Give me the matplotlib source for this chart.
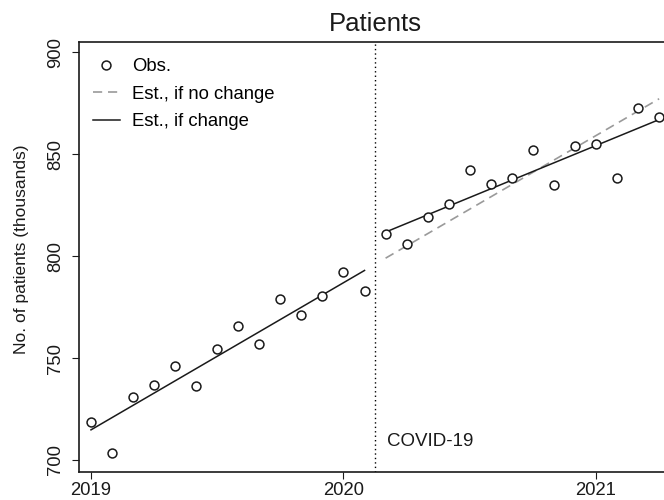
# Interrupted time series: monthly patients before / after COVID-19
import numpy as np
import matplotlib
matplotlib.use('Agg')
import matplotlib.pyplot as plt

plt.rcParams['font.family'] = ['Liberation Sans', 'DejaVu Sans']

# months since Jan 2019
months_pre = np.arange(0, 14)      # 2019-01 .. 2020-02
months_post = np.arange(14, 28)    # 2020-03 .. 2021-04

obs_pre = [718.5, 703.4, 731.0, 736.9, 745.9, 736.1, 754.4,
           765.5, 756.7, 779.1, 771.1, 780.5, 792.2, 782.8]
obs_post = [810.8, 805.9, 819.0, 825.3, 842.0, 835.3, 838.1,
            852.1, 834.8, 853.9, 855.0, 838.2, 872.7, 868.0]

covid_month = 13.5
year_ticks = [2019, 2020, 2021]
y_ticks = [700, 750, 800, 850, 900]

# segmented regression (separate OLS fits per period)
b_pre = np.polyfit(months_pre, obs_pre, 1)
b_post = np.polyfit(months_post, obs_post, 1)
fit_pre = np.polyval(b_pre, months_pre)
fit_post = np.polyval(b_post, months_post)
fit_nochange = np.polyval(b_pre, months_post)

def to_year(m):
    return 2019 + np.asarray(m) / 12.0

fig = plt.figure(figsize=(6.64, 5.0), dpi=100)
ax = fig.add_axes([79/664, 28/500, 592/664, 430/500])

ax.plot(to_year(months_post), fit_nochange, color='#9a9a9a', lw=1.2,
        dashes=(5.5, 3.5), label='Est., if no change')
ax.plot(to_year(months_pre), fit_pre, color='#1a1a1a', lw=1.1,
        label='Est., if change')
ax.plot(to_year(months_post), fit_post, color='#1a1a1a', lw=1.1)
ax.plot(to_year(np.r_[months_pre, months_post]), obs_pre + obs_post,
        ls='none', marker='o', ms=6.4, mfc='white', mec='#1a1a1a', mew=1.1,
        label='Obs.')

ax.axvline(to_year(covid_month), color='black', lw=1.0, ls=(0, (1, 2.2)))
ax.annotate('COVID-19', xy=(to_year(covid_month), 0), xycoords=('data', 'axes fraction'),
            xytext=(8.5, 18.5), textcoords='offset points', fontsize=13.5,
            color='#1a1a1a', ha='left', va='baseline')

ax.set_xlim(2018.9525, 2021.297)
ax.set_ylim(694.1, 905.0)
ax.set_xticks(year_ticks)
ax.set_yticks(y_ticks)
ax.tick_params(direction='out', length=5, width=0.8, labelsize=13.3, colors='#1a1a1a')
ax.tick_params(axis='x', pad=2.5)
ax.tick_params(axis='y', pad=5.5)
plt.setp(ax.get_yticklabels(), rotation=90, va='center')
for s in ax.spines.values():
    s.set_linewidth(1.2)
    s.set_color('#1a1a1a')

ax.set_ylabel('No. of patients (thousands)', fontsize=12.5, color='#1a1a1a')
ax.yaxis.set_label_coords(-50/592, 0.5 + 8/430)

fig.text(375/664, 1 - 31/500, 'Patients', ha='center', va='baseline',
         fontsize=18.5, color='#1a1a1a')

h, l = ax.get_legend_handles_labels()
order = [2, 0, 1]
ax.legend([h[i] for i in order], [l[i] for i in order], loc='upper left',
          bbox_to_anchor=(93/664, 1 - 58/500), bbox_transform=fig.transFigure,
          frameon=False, fontsize=13.3, borderpad=0, borderaxespad=0,
          handlelength=1.45, handletextpad=0.65, labelspacing=0.58)

fig.savefig('out.png', dpi=100)
